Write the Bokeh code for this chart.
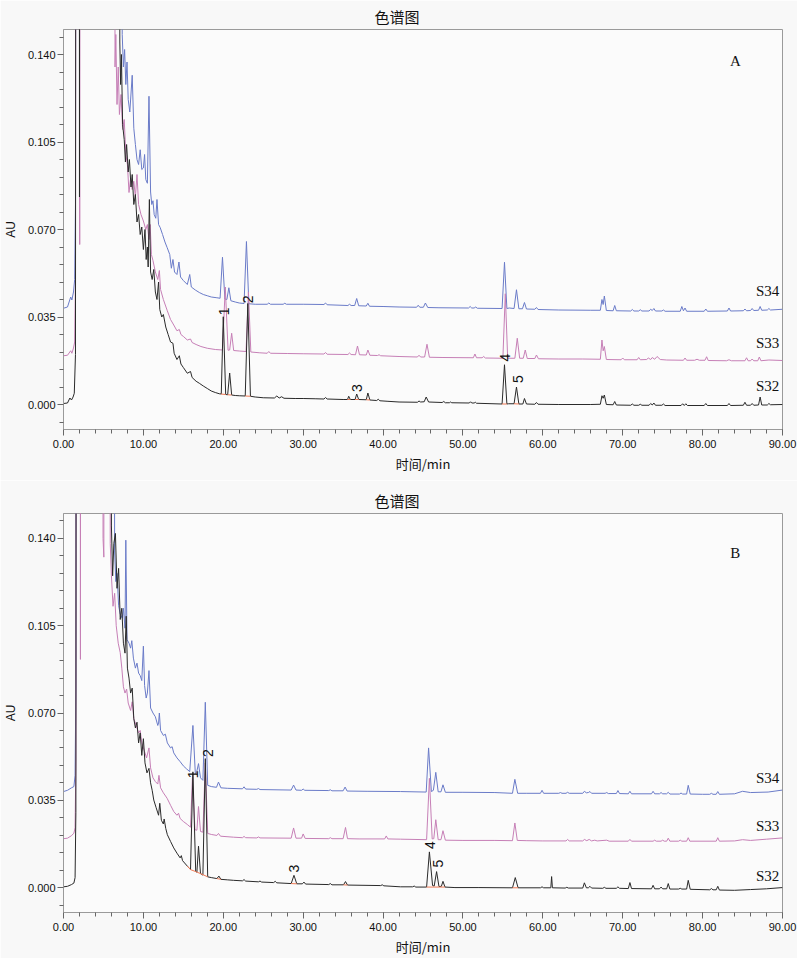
import math
from bokeh.plotting import figure
from bokeh.models import Range1d, FixedTicker, NumeralTickFormatter
from bokeh.layouts import column
from bokeh.embed import file_html
from bokeh.resources import INLINE
from bokeh.core.properties import value

# ---------------- data (time in min, absorbance in AU) ----------------
X_TICKS = [0, 10, 20, 30, 40, 50, 60, 70, 80, 90]
X_MINOR = [float(v) for v in range(0, 91, 2)]
Y_TICKS = [0.0, 0.035, 0.070, 0.105, 0.140]
Y_MINOR = [-0.007, 0.007, 0.014, 0.021, 0.028, 0.042, 0.049, 0.056, 0.063,
           0.077, 0.084, 0.091, 0.098, 0.112, 0.119, 0.126, 0.133, 0.147]
SAMPLES = ["S34", "S33", "S32"]
PEAK_IDS = ["1", "2", "3", "4", "5"]

# Panel A traces
A_S32 = [(0.0, 0.0004), (0.5, 0.0006), (0.8, 0.0026), (1.0, 0.0018), (1.2, 0.0030), (1.35, 0.0045),
 (1.5, 0.02), (1.6, 0.6), (1.95, 0.6), (2.0, 0.083), (2.05, 0.6), (6.9, 0.6), (7.05, 0.145), (7.15, 0.128),
 (7.25, 0.140), (7.4, 0.112), (7.6, 0.106), (7.75, 0.097), (7.9, 0.104), (8.1, 0.093), (8.25, 0.098),
 (8.45, 0.087), (8.6, 0.092), (8.8, 0.080), (9.0, 0.084), (9.2, 0.073), (9.4, 0.076), (9.6, 0.068),
 (9.8, 0.071), (10.0, 0.062), (10.2, 0.070), (10.35, 0.058), (10.5, 0.063), (10.6, 0.055), (10.75, 0.082),
 (10.9, 0.053), (11.1, 0.050), (11.3, 0.054), (11.5, 0.045), (11.7, 0.042), (11.9, 0.049), (12.05, 0.038),
 (12.3, 0.035), (12.5, 0.036), (12.8, 0.031), (13.1, 0.028), (13.4, 0.025), (13.7, 0.0245), (13.85, 0.0205),
 (14.2, 0.018), (14.5, 0.0195), (14.7, 0.0162), (15.0, 0.0148), (15.5, 0.0125), (15.9, 0.0132), (16.1, 0.0108),
 (16.6, 0.0093), (17.0, 0.0085), (17.5, 0.0074), (18.0, 0.0064), (18.5, 0.0054), (19.0, 0.0048), (19.5, 0.0043),
 (19.75, 0.0042), (20.0, 0.0351), (20.3, 0.0040), (20.55, 0.0039), (20.8, 0.0126), (21.05, 0.0038), (21.5, 0.0036),
 (22.0, 0.0035), (22.75, 0.0034), (23.07, 0.0404), (23.4, 0.0033), (24.0, 0.0030), (25.0, 0.0027), (26.4, 0.0026),
 (26.7, 0.0034), (27.0, 0.0026), (27.3, 0.0031), (27.6, 0.0025), (29.0, 0.0024), (30.0, 0.0024), (31.5, 0.0023),
 (32.6, 0.0022), (32.8, 0.0028), (33.0, 0.0022), (35.0, 0.0020), (35.55, 0.0020), (35.7, 0.0033), (35.9, 0.0020),
 (36.5, 0.0020), (36.7, 0.0042), (36.95, 0.0020), (37.9, 0.0019), (38.1, 0.0046), (38.35, 0.0018), (39.2, 0.0016),
 (39.4, 0.0021), (39.6, 0.0015), (40.5, 0.0013), (42.0, 0.0010), (44.3, 0.0009), (44.5, 0.0014), (44.7, 0.0010),
 (45.15, 0.0011), (45.4, 0.0030), (45.7, 0.0010), (47.4, 0.0008), (47.6, 0.0012), (47.8, 0.0007), (48.3, 0.0007),
 (48.45, 0.0010), (48.6, 0.0007), (50.8, 0.0006), (50.95, 0.0011), (51.1, 0.0006), (51.4, 0.0006), (51.55, 0.0009),
 (51.7, 0.0005), (54.9, 0.0002), (55.2, 0.0159), (55.5, 0.0002), (55.7, 0.0003), (56.4, 0.0003), (56.7, 0.0070),
 (57.0, 0.0002), (57.5, 0.0002), (57.7, 0.0024), (57.95, 0.0002), (59.0, 0.0001), (59.2, 0.0008), (59.4, 0.0001),
 (62.0, 0.0), (66.0, 0.0), (67.2, 0.0001), (67.4, 0.0035), (67.55, 0.0025), (67.7, 0.0038), (67.95, 0.0),
 (68.8, -0.0001), (69.0, 0.0012), (69.2, -0.0002), (71.0, -0.0003), (71.2, 0.0002), (71.4, -0.0003), (72.0, -0.0003),
 (72.2, 0.0001), (72.4, -0.0003), (73.3, -0.0003), (73.5, 0.0004), (73.7, -0.0002), (73.9, 0.0006), (74.1, -0.0003),
 (74.9, -0.0003), (75.1, 0.0002), (75.3, -0.0004), (77.3, -0.0004), (77.5, 0.0003), (77.7, -0.0004), (77.9, 0.0003),
 (78.1, -0.0004), (80.2, -0.0004), (80.4, 0.0004), (80.6, -0.0004), (83.1, -0.0004), (83.3, 0.0004), (83.5, -0.0004),
 (85.1, -0.0003), (85.3, 0.0009), (85.5, -0.0003), (86.0, -0.0003), (86.2, 0.0004), (86.4, -0.0003), (87.0, -0.0002),
 (87.2, 0.0030), (87.4, -0.0002), (88.1, -0.0002), (88.3, 0.0004), (88.5, -0.0001), (90.0, 0.0)]

A_S33 = [(0.0, 0.0195), (0.5, 0.0197), (0.9, 0.0215), (1.05, 0.0205), (1.25, 0.0226), (1.4, 0.025), (1.5, 0.05),
 (1.6, 0.6), (1.95, 0.6), (2.03, 0.064), (2.1, 0.6), (6.3, 0.6), (6.45, 0.135), (6.55, 0.148), (6.7, 0.120),
 (6.85, 0.135), (7.0, 0.116), (7.2, 0.124), (7.4, 0.110), (7.6, 0.114), (7.8, 0.100), (8.0, 0.096), (8.2, 0.0848),
 (8.4, 0.0905), (8.6, 0.086), (8.8, 0.0893), (9.0, 0.083), (9.2, 0.092), (9.4, 0.080), (9.7, 0.076), (10.0, 0.0734),
 (10.3, 0.070), (10.5, 0.072), (10.7, 0.066), (10.85, 0.072), (11.0, 0.060), (11.2, 0.0576), (11.5, 0.053),
 (11.8, 0.050), (12.0, 0.0536), (12.15, 0.046), (12.5, 0.042), (12.97, 0.0377), (13.4, 0.034), (13.8, 0.0318),
 (14.2, 0.0295), (14.5, 0.0300), (14.7, 0.0280), (15.05, 0.0271), (15.5, 0.0258), (15.9, 0.0262), (16.1, 0.0248),
 (16.6, 0.0240), (17.2, 0.0232), (18.0, 0.0225), (19.0, 0.0220), (19.9, 0.0218), (20.25, 0.047), (20.6, 0.0217),
 (20.8, 0.0218), (21.05, 0.0285), (21.3, 0.0216), (22.0, 0.0214), (22.85, 0.0212), (23.15, 0.045), (23.45, 0.0210),
 (24.5, 0.0207), (25.5, 0.0205), (25.7, 0.0212), (25.9, 0.0205), (28.0, 0.0204), (30.0, 0.0203), (32.6, 0.0202),
 (32.8, 0.0208), (33.0, 0.0201), (35.6, 0.0200), (35.8, 0.0206), (36.0, 0.0200), (36.55, 0.0199), (36.8, 0.0234),
 (37.05, 0.0199), (37.9, 0.0198), (38.1, 0.0218), (38.35, 0.0197), (39.3, 0.0196), (39.5, 0.0199), (39.7, 0.0195),
 (42.0, 0.0192), (44.3, 0.0190), (44.5, 0.0197), (44.7, 0.0190), (45.2, 0.0190), (45.5, 0.0241), (45.8, 0.0189),
 (47.5, 0.0188), (51.3, 0.0187), (51.5, 0.0202), (51.7, 0.0187), (52.4, 0.0187), (52.6, 0.0192), (52.8, 0.0186),
 (55.0, 0.0185), (55.3, 0.0443), (55.6, 0.0185), (56.5, 0.0185), (56.8, 0.0265), (57.1, 0.0185), (57.55, 0.0185),
 (57.8, 0.0218), (58.05, 0.0184), (59.0, 0.0184), (59.2, 0.0198), (59.45, 0.0183), (62.0, 0.0182), (65.0, 0.0182),
 (67.2, 0.0181), (67.4, 0.0258), (67.55, 0.0215), (67.7, 0.0232), (67.95, 0.0180), (69.8, 0.0179), (70.0, 0.0186),
 (70.2, 0.0179), (71.8, 0.0179), (72.0, 0.0188), (72.2, 0.0179), (73.0, 0.0180), (73.2, 0.0186), (73.5, 0.0180),
 (73.7, 0.0188), (74.0, 0.0181), (74.3, 0.0192), (74.7, 0.0180), (75.5, 0.0178), (77.6, 0.0177), (77.8, 0.0186),
 (78.0, 0.0177), (79.0, 0.0177), (79.3, 0.0181), (79.6, 0.0177), (80.3, 0.0177), (80.5, 0.0191), (80.7, 0.0176),
 (83.0, 0.0175), (83.3, 0.0179), (83.6, 0.0175), (85.3, 0.0175), (85.5, 0.0187), (85.7, 0.0175), (86.0, 0.0175),
 (86.2, 0.0182), (86.4, 0.0175), (86.9, 0.0175), (87.1, 0.0190), (87.3, 0.0175), (88.3, 0.0178), (90.0, 0.0176)]

A_S34 = [(0.0, 0.0385), (0.5, 0.0390), (0.9, 0.0430), (1.05, 0.0418), (1.25, 0.0450), (1.4, 0.050), (1.5, 0.08),
 (1.6, 0.6), (7.2, 0.6), (7.35, 0.148), (7.5, 0.135), (7.65, 0.142), (7.8, 0.128), (7.95, 0.137), (8.1, 0.122),
 (8.3, 0.117), (8.6, 0.1317), (8.8, 0.1105), (9.0, 0.104), (9.2, 0.098), (9.4, 0.096), (9.6, 0.1019), (9.8, 0.094),
 (10.0, 0.0946), (10.15, 0.1000), (10.3, 0.0900), (10.5, 0.0885), (10.7, 0.1233), (10.9, 0.0850), (11.05, 0.0800),
 (11.2, 0.0815), (11.35, 0.0760), (11.55, 0.0745), (11.7, 0.0820), (11.9, 0.0720), (12.1, 0.0708), (12.4, 0.0680),
 (12.7, 0.0650), (12.97, 0.0628), (13.3, 0.0600), (13.5, 0.0545), (13.7, 0.0580), (13.9, 0.0530), (14.2, 0.0520),
 (14.45, 0.0570), (14.65, 0.0510), (15.0, 0.0496), (15.5, 0.0480), (15.8, 0.0520), (16.0, 0.0470), (16.5, 0.0458),
 (17.0, 0.0448), (17.5, 0.0440), (18.0, 0.0435), (18.5, 0.0430), (19.2, 0.0427), (19.6, 0.0425), (19.9, 0.0589),
 (20.2, 0.0422), (20.45, 0.0420), (20.7, 0.0467), (20.95, 0.0415), (21.5, 0.0410), (22.0, 0.0406), (22.6, 0.0404),
 (22.9, 0.0652), (23.2, 0.0403), (24.0, 0.0401), (25.5, 0.0401), (25.7, 0.0406), (25.9, 0.0401), (27.5, 0.0401),
 (27.7, 0.0405), (27.9, 0.0401), (30.0, 0.0401), (32.6, 0.0400), (32.8, 0.0406), (33.0, 0.0399), (35.6, 0.0396),
 (35.8, 0.0401), (36.0, 0.0396), (36.45, 0.0396), (36.7, 0.0424), (36.95, 0.0395), (37.9, 0.0394), (38.1, 0.0405),
 (38.3, 0.0393), (40.0, 0.0392), (42.0, 0.0390), (44.2, 0.0389), (44.4, 0.0397), (44.6, 0.0389), (45.05, 0.0389),
 (45.3, 0.0406), (45.6, 0.0388), (47.0, 0.0387), (50.7, 0.0386), (50.9, 0.0392), (51.1, 0.0386), (51.4, 0.0386),
 (51.6, 0.0390), (51.8, 0.0385), (54.9, 0.0384), (55.2, 0.0569), (55.5, 0.0384), (55.8, 0.0386), (56.4, 0.0384),
 (56.7, 0.0459), (57.0, 0.0383), (57.45, 0.0383), (57.7, 0.0408), (57.95, 0.0382), (59.0, 0.0381), (59.2, 0.0388),
 (59.4, 0.0380), (62.0, 0.0378), (66.0, 0.0377), (67.2, 0.0377), (67.4, 0.0420), (67.55, 0.0400), (67.7, 0.0434),
 (67.95, 0.0376), (68.8, 0.0375), (69.0, 0.0396), (69.2, 0.0375), (71.0, 0.0374), (71.2, 0.0380), (71.4, 0.0374),
 (72.0, 0.0374), (72.2, 0.0379), (72.4, 0.0374), (73.3, 0.0374), (73.5, 0.0381), (73.7, 0.0376), (73.9, 0.0384),
 (74.1, 0.0374), (74.9, 0.0374), (75.1, 0.0378), (75.3, 0.0373), (77.2, 0.0373), (77.4, 0.0392), (77.6, 0.0375),
 (77.8, 0.0386), (78.0, 0.0373), (80.2, 0.0373), (80.4, 0.0382), (80.6, 0.0373), (83.1, 0.0374), (83.3, 0.0386),
 (83.5, 0.0374), (85.1, 0.0375), (85.3, 0.0382), (85.5, 0.0375), (86.0, 0.0376), (86.2, 0.0384), (86.4, 0.0376),
 (87.0, 0.0377), (87.2, 0.0392), (87.4, 0.0377), (88.1, 0.0378), (88.3, 0.0384), (88.5, 0.0378), (90.0, 0.0381)]

# Panel B traces
B_S32 = [(0.0, 0.0003), (0.5, 0.0005), (1.0, 0.0012), (1.3, 0.0018), (1.45, 0.004), (1.55, 0.03), (1.65, 0.6),
 (5.8, 0.6), (6.0, 0.145), (6.15, 0.125), (6.3, 0.138), (6.5, 0.142), (6.7, 0.120), (6.9, 0.128), (7.1, 0.1075),
 (7.3, 0.112), (7.5, 0.098), (7.7, 0.094), (7.85, 0.1088), (8.0, 0.088), (8.2, 0.084), (8.4, 0.078), (8.6, 0.080),
 (8.8, 0.0677), (9.0, 0.064), (9.2, 0.0663), (9.4, 0.058), (9.6, 0.062), (9.8, 0.053), (10.0, 0.0597), (10.2, 0.050),
 (10.45, 0.046), (10.7, 0.0478), (10.9, 0.042), (11.1, 0.039), (11.3, 0.0351), (11.6, 0.032), (11.9, 0.029),
 (12.05, 0.0338), (12.25, 0.0270), (12.5, 0.0255), (12.6, 0.0275), (12.8, 0.0237), (13.0, 0.0212), (13.4, 0.0185),
 (13.8, 0.0159), (14.2, 0.0138), (14.6, 0.0119), (14.75, 0.0128), (14.9, 0.0108), (15.5, 0.0086), (15.9, 0.0072),
 (16.2, 0.0464), (16.55, 0.0064), (16.7, 0.0062), (16.9, 0.0166), (17.15, 0.0056), (17.45, 0.0050), (17.75, 0.0517),
 (18.05, 0.0043), (18.5, 0.0040), (19.2, 0.0036), (19.45, 0.0046), (19.7, 0.0033), (20.5, 0.0031), (21.3, 0.0029),
 (22.4, 0.0027), (22.6, 0.0032), (22.8, 0.0026), (24.4, 0.0023), (24.6, 0.0026), (24.8, 0.0022), (26.3, 0.0020),
 (26.5, 0.0025), (26.7, 0.0019), (28.5, 0.0016), (28.85, 0.0049), (29.2, 0.0015), (29.9, 0.0015), (30.1, 0.0022),
 (30.3, 0.0014), (33.2, 0.0012), (33.4, 0.0016), (33.6, 0.0011), (35.05, 0.0011), (35.3, 0.0024), (35.55, 0.0010),
 (39.7, 0.0008), (39.9, 0.0011), (40.1, 0.0007), (42.2, 0.0003), (43.7, 0.0003), (43.9, 0.0006), (44.1, 0.0002),
 (45.45, 0.0002), (45.8, 0.0143), (46.2, 0.0008), (46.4, 0.0006), (46.7, 0.0064), (47.0, 0.0004), (47.3, 0.0005),
 (47.5, 0.0025), (47.75, 0.0002), (49.0, 0.0), (52.0, 0.0), (56.2, -0.0001), (56.55, 0.0040), (56.9, -0.0001),
 (59.7, -0.0001), (59.9, 0.0003), (60.1, -0.0001), (61.0, -0.0001), (61.1, 0.0044), (61.2, -0.0001), (62.8, -0.0002),
 (63.0, 0.0001), (63.2, -0.0002), (65.0, -0.0002), (65.2, 0.0019), (65.45, -0.0001), (65.7, -0.0001), (65.9, 0.0005),
 (66.1, -0.0002), (67.5, -0.0003), (67.7, 0.0001), (67.9, -0.0003), (69.2, -0.0003), (69.4, 0.0003), (69.6, -0.0003),
 (70.7, -0.0004), (70.9, 0.0020), (71.1, -0.0004), (73.6, -0.0005), (73.8, 0.0009), (74.0, -0.0005), (74.6, -0.0005),
 (74.8, 0.0002), (75.0, -0.0005), (75.5, -0.0005), (75.7, 0.0016), (75.9, -0.0006), (77.0, -0.0006), (77.2, -0.0003),
 (77.4, -0.0006), (78.0, -0.0006), (78.2, 0.0029), (78.45, -0.0007), (80.9, -0.0009), (81.1, -0.0004), (81.3, -0.0009),
 (81.7, -0.0009), (81.9, 0.0005), (82.1, -0.0010), (84.0, -0.0011), (86.0, -0.0008), (88.0, -0.0005), (90.0, 0.0)]

B_S33 = [(0.0, 0.0196), (0.5, 0.0198), (1.0, 0.0208), (1.3, 0.0218), (1.45, 0.024), (1.55, 0.05), (1.65, 0.6),
 (2.05, 0.6), (2.12, 0.0915), (2.2, 0.6), (4.8, 0.6), (4.95, 0.140), (5.05, 0.1325), (5.15, 0.6), (5.7, 0.6),
 (5.85, 0.138), (6.0, 0.125), (6.2, 0.1128), (6.4, 0.118), (6.6, 0.105), (6.85, 0.098), (7.1, 0.0942), (7.3, 0.088),
 (7.5, 0.0805), (7.7, 0.078), (7.9, 0.0796), (8.1, 0.074), (8.4, 0.071), (8.6, 0.0745), (8.8, 0.0677), (9.1, 0.065),
 (9.4, 0.062), (9.6, 0.0630), (9.8, 0.058), (10.1, 0.055), (10.4, 0.052), (10.7, 0.0560), (10.9, 0.048),
 (11.2, 0.0440), (11.5, 0.0425), (11.8, 0.0415), (11.95, 0.0450), (12.15, 0.0400), (12.5, 0.038), (12.97, 0.0358),
 (13.4, 0.0330), (13.8, 0.0305), (14.2, 0.0290), (14.4, 0.0298), (14.6, 0.0277), (15.0, 0.0265), (15.5, 0.0253),
 (15.9, 0.0242), (16.15, 0.045), (16.45, 0.0232), (16.7, 0.0230), (16.9, 0.0325), (17.15, 0.0225), (17.45, 0.0222),
 (17.75, 0.050), (18.05, 0.0217), (18.5, 0.0213), (19.2, 0.0209), (19.4, 0.0217), (19.65, 0.0206), (21.3, 0.0202),
 (22.4, 0.0200), (22.6, 0.0205), (22.8, 0.0200), (24.2, 0.0199), (24.4, 0.0203), (24.6, 0.0199), (28.5, 0.0198),
 (28.8, 0.0239), (29.1, 0.0198), (29.8, 0.0198), (30.0, 0.0215), (30.25, 0.0197), (33.2, 0.0196), (33.4, 0.0200),
 (33.6, 0.0196), (35.0, 0.0196), (35.3, 0.0241), (35.55, 0.0196), (37.0, 0.0195), (40.2, 0.0195), (40.4, 0.0207),
 (40.6, 0.0195), (42.2, 0.0194), (45.45, 0.0192), (45.8, 0.0438), (46.15, 0.0195), (46.35, 0.0196), (46.6, 0.0272),
 (46.9, 0.0192), (47.25, 0.0192), (47.5, 0.0228), (47.8, 0.0190), (50.0, 0.0189), (54.0, 0.0189), (56.2, 0.0188),
 (56.5, 0.0259), (56.8, 0.0189), (58.0, 0.0188), (60.0, 0.0187), (62.9, 0.0187), (63.1, 0.0193), (63.3, 0.0187),
 (65.0, 0.0187), (65.2, 0.0193), (65.5, 0.0188), (65.8, 0.0193), (66.1, 0.0187), (66.5, 0.0190), (66.8, 0.0187),
 (68.0, 0.0190), (68.3, 0.0186), (70.7, 0.0186), (70.9, 0.0193), (71.1, 0.0186), (73.8, 0.0186), (74.0, 0.0190),
 (74.2, 0.0186), (74.8, 0.0186), (75.0, 0.0190), (75.2, 0.0186), (75.5, 0.0186), (75.7, 0.0198), (75.9, 0.0186),
 (77.0, 0.0186), (77.2, 0.0190), (77.4, 0.0186), (78.0, 0.0186), (78.2, 0.0200), (78.4, 0.0186), (81.7, 0.0186),
 (81.9, 0.0200), (82.1, 0.0186), (84.0, 0.0187), (85.0, 0.0192), (86.0, 0.0189), (88.0, 0.0194), (90.0, 0.0199)]

B_S34 = [(0.0, 0.0385), (0.5, 0.0390), (1.0, 0.0400), (1.3, 0.0405), (1.45, 0.045), (1.55, 0.08), (1.65, 0.6),
 (6.2, 0.6), (6.4, 0.135), (6.55, 0.1227), (6.7, 0.126), (6.9, 0.113), (7.1, 0.1097), (7.35, 0.108), (7.5, 0.112),
 (7.7, 0.104), (7.8, 0.1393), (7.95, 0.0995), (8.2, 0.098), (8.4, 0.096), (8.55, 0.0990), (8.75, 0.092),
 (9.0, 0.0880), (9.2, 0.0900), (9.4, 0.0860), (9.6, 0.0850), (9.8, 0.0830), (10.0, 0.0968), (10.15, 0.0810),
 (10.35, 0.0760), (10.5, 0.0780), (10.7, 0.0870), (10.9, 0.0720), (11.2, 0.0700), (11.5, 0.0685), (11.8, 0.0650),
 (11.9, 0.0660), (12.0, 0.0700), (12.15, 0.0630), (12.5, 0.0610), (12.75, 0.0615), (13.0, 0.0580), (13.4, 0.0560),
 (13.6, 0.0565), (13.8, 0.0540), (14.2, 0.0520), (14.6, 0.0505), (15.0, 0.0488), (15.4, 0.0476), (15.8, 0.0465),
 (16.2, 0.0650), (16.5, 0.0458), (16.65, 0.0460), (16.9, 0.0497), (17.15, 0.0440), (17.45, 0.0430), (17.75, 0.0743),
 (18.05, 0.0410), (18.5, 0.0405), (19.15, 0.0402), (19.4, 0.0423), (19.7, 0.0400), (20.5, 0.0398), (22.4, 0.0396),
 (22.6, 0.0404), (22.8, 0.0395), (24.2, 0.0394), (24.4, 0.0397), (24.6, 0.0393), (28.5, 0.0391), (28.8, 0.0411),
 (29.1, 0.0391), (29.8, 0.0390), (30.0, 0.0395), (30.2, 0.0390), (33.2, 0.0389), (33.4, 0.0392), (33.6, 0.0388),
 (35.0, 0.0388), (35.25, 0.0403), (35.5, 0.0387), (38.0, 0.0386), (42.2, 0.0385), (45.4, 0.0383), (45.7, 0.0560),
 (46.05, 0.0385), (46.3, 0.0390), (46.6, 0.0462), (46.9, 0.0384), (47.25, 0.0384), (47.5, 0.0412), (47.8, 0.0382),
 (50.0, 0.0382), (54.0, 0.0381), (56.2, 0.0378), (56.5, 0.0434), (56.85, 0.0378), (58.0, 0.0378), (59.7, 0.0378),
 (59.9, 0.0390), (60.1, 0.0378), (62.0, 0.0378), (62.2, 0.0381), (62.4, 0.0378), (62.9, 0.0378), (63.1, 0.0382),
 (63.3, 0.0378), (65.0, 0.0378), (65.2, 0.0386), (65.45, 0.0380), (65.7, 0.0381), (65.9, 0.0385), (66.1, 0.0378),
 (67.8, 0.0378), (68.0, 0.0381), (68.2, 0.0377), (69.2, 0.0377), (69.4, 0.0389), (69.6, 0.0377), (70.7, 0.0376),
 (70.9, 0.0386), (71.1, 0.0376), (73.6, 0.0376), (73.8, 0.0386), (74.0, 0.0376), (74.6, 0.0376), (74.8, 0.0381),
 (75.0, 0.0376), (75.5, 0.0376), (75.7, 0.0382), (75.9, 0.0375), (77.1, 0.0375), (77.3, 0.0379), (77.5, 0.0375),
 (78.0, 0.0375), (78.2, 0.0410), (78.45, 0.0375), (80.0, 0.0374), (80.9, 0.0374), (81.1, 0.0378), (81.3, 0.0374),
 (81.7, 0.0374), (81.9, 0.0385), (82.1, 0.0374), (84.0, 0.0376), (85.0, 0.0386), (86.0, 0.0381), (88.2, 0.0383),
 (90.0, 0.0391)]

# integration baselines drawn under the S32 peaks (x0, y0, x1, y1)
A_BASE = [(19.7, 0.0042, 20.3, 0.0040), (20.55, 0.0039, 21.05, 0.0038), (22.75, 0.0034, 23.4, 0.0033),
          (35.55, 0.0020, 35.9, 0.0020), (36.5, 0.0020, 36.95, 0.0020), (37.9, 0.0019, 38.35, 0.0018),
          (54.9, 0.0002, 55.5, 0.0002), (56.4, 0.0003, 57.0, 0.0002)]
B_BASE = [(15.5, 0.0086, 15.9, 0.0072), (15.9, 0.0072, 16.55, 0.0064), (16.55, 0.0064, 17.15, 0.0056),
          (17.15, 0.0056, 18.05, 0.0043), (19.2, 0.0036, 19.7, 0.0033), (28.5, 0.0016, 29.2, 0.0015),
          (35.05, 0.0011, 35.55, 0.0010), (45.45, 0.0002, 47.75, 0.0002), (56.2, -0.0001, 56.9, -0.0001)]

# peak number label anchors (time, AU) and sample label positions
A_PEAK_T = [20.05, 23.05, 36.75, 55.25, 56.85]
A_PEAK_V = [0.0357, 0.0405, 0.0050, 0.0172, 0.0086]
B_PEAK_T = [16.15, 18.05, 28.9, 45.9, 46.85]
B_PEAK_V = [0.0438, 0.0524, 0.0060, 0.0155, 0.0080]
A_SAMPLE_V = [0.0453, 0.0246, 0.0075]
B_SAMPLE_V = [0.0438, 0.0247, 0.0048]

COLORS = {"S34": "#6a7bc8", "S33": "#c67fb6", "S32": "#2a2a2a"}
ORANGE = "#f07a55"


def make_panel(letter, traces, base, peak_t, peak_v, sample_v, height, top, bottom):
    p = figure(width=797, height=height, output_backend="svg", toolbar_location=None,
               x_range=Range1d(0, 90), y_range=Range1d(-0.01, 0.15),
               min_border_left=63, min_border_right=15, min_border_top=top, min_border_bottom=bottom)
    p.background_fill_color = "#fbfbfb"
    p.border_fill_color = "#f8f8f8"
    p.outline_line_color = "#9a9a9a"
    p.grid.visible = False

    p.title.text = "色谱图"
    p.title.align = "left"
    p.title.offset = 311
    p.title.standoff = 6
    p.title.text_font = "Noto Sans CJK SC"
    p.title.text_font_size = "15px"
    p.title.text_font_style = "normal"
    p.title.text_color = "#111111"

    for name in ["S34", "S33", "S32"]:
        t, v = zip(*traces[name])
        p.line(list(t), list(v), line_color=COLORS[name], line_width=1)

    x0, y0, x1, y1 = zip(*base)
    p.segment(list(x0), list(y0), list(x1), list(y1), line_color=ORANGE, line_width=1)

    p.text(x=peak_t, y=peak_v, text=PEAK_IDS, angle=math.pi / 2,
           text_align="left", text_baseline="middle",
           text_font=value("Liberation Sans"), text_font_size="14px", text_color="#111111")

    p.text(x=[89.6] * 3, y=sample_v, text=SAMPLES, text_align="right", text_baseline="middle",
           text_font=value("Liberation Serif"), text_font_size="15px", text_color="#111111")

    p.text(x=[84.1], y=[0.1375 if letter == "A" else 0.1342], text=[letter], text_align="center",
           text_baseline="middle", text_font=value("Liberation Serif"), text_font_size="15px",
           text_color="#111111")

    p.xaxis.ticker = FixedTicker(ticks=X_TICKS, minor_ticks=X_MINOR)
    p.yaxis.ticker = FixedTicker(ticks=Y_TICKS, minor_ticks=Y_MINOR)
    p.xaxis.formatter = NumeralTickFormatter(format="0.00")
    p.yaxis.formatter = NumeralTickFormatter(format="0.000")
    p.xaxis.axis_label = "时间/min"
    p.yaxis.axis_label = "AU"
    for ax in (p.xaxis, p.yaxis):
        ax.axis_line_color = "#9a9a9a"
        ax.major_tick_line_color = "#666666"
        ax.minor_tick_line_color = "#666666"
        ax.major_tick_out = 6
        ax.major_tick_in = 0
        ax.minor_tick_out = 4
        ax.minor_tick_in = 0
        ax.major_label_text_font = "Liberation Sans"
        ax.major_label_text_font_size = "11px"
        ax.major_label_text_color = "#111111"
        ax.axis_label_text_font_style = "normal"
        ax.axis_label_text_color = "#111111"
    p.xaxis.major_label_standoff = 4
    p.xaxis.axis_label_standoff = 3
    p.xaxis.axis_label_text_font = "Noto Sans CJK SC"
    p.xaxis.axis_label_text_font_size = "13px"
    p.yaxis.major_label_standoff = 2
    p.yaxis.axis_label_standoff = 7
    p.yaxis.axis_label_text_font = "Liberation Sans"
    p.yaxis.axis_label_text_font_size = "12px"
    return p


pa = make_panel("A", {"S32": A_S32, "S33": A_S33, "S34": A_S34}, A_BASE, A_PEAK_T, A_PEAK_V, A_SAMPLE_V,
                480, 28, 51)
pb = make_panel("B", {"S32": B_S32, "S33": B_S33, "S34": B_S34}, B_BASE, B_PEAK_T, B_PEAK_V, B_SAMPLE_V,
                478, 33, 44)

layout = column(pa, pb, spacing=0)
open("out.html", "w").write(file_html(layout, INLINE))
